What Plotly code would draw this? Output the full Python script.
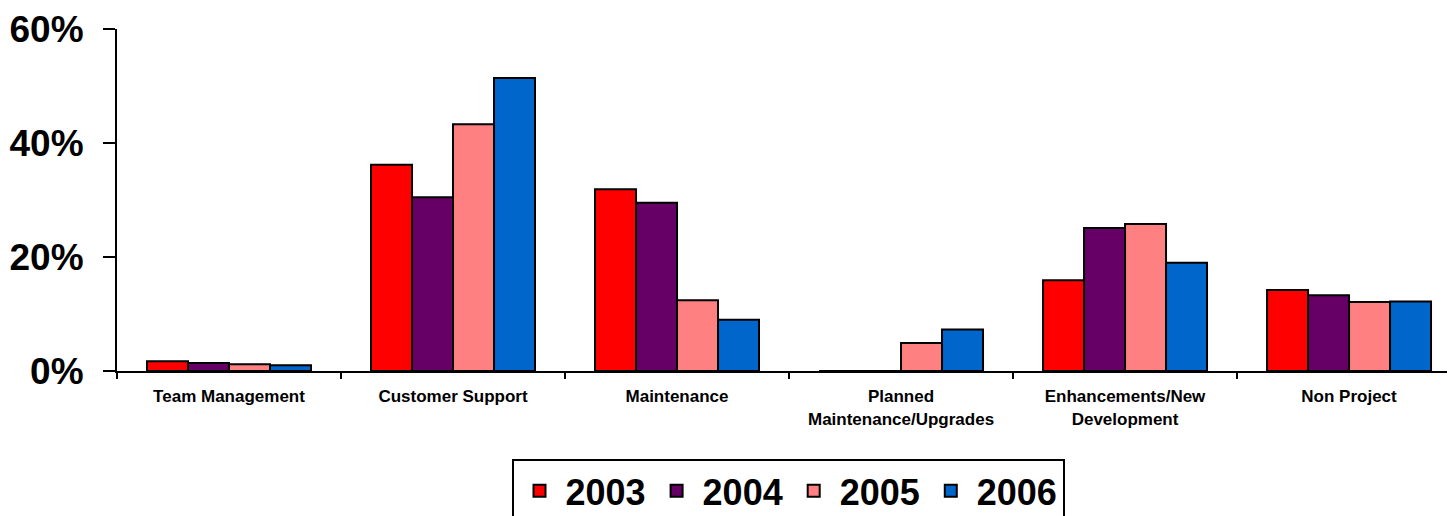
import plotly.graph_objects as go

categories = ["Team Management", "Customer Support", "Maintenance",
              "Planned<br>Maintenance/Upgrades", "Enhancements/New<br>Development", "Non Project"]
years = ["2003", "2004", "2005", "2006"]
v2003 = [1.7, 36.2, 31.9, 0.0, 15.9, 14.2]
v2004 = [1.4, 30.5, 29.5, 0.0, 25.1, 13.3]
v2005 = [1.2, 43.3, 12.4, 4.9, 25.8, 12.1]
v2006 = [1.0, 51.4, 9.0, 7.3, 19.0, 12.2]
series = [v2003, v2004, v2005, v2006]
colors = ["#FF0000", "#660066", "#FF8080", "#0066CC"]
y_tickvals = [0, 20, 40, 60]
y_ticktext = ["0%", "20%", "40%", "60%"]

FONT = "Arial, Liberation Sans, sans-serif"

fig = go.Figure()
for name, vals, col in zip(years, series, colors):
    fig.add_trace(go.Bar(
        x=categories, y=vals, name=name,
        marker=dict(color=col, line=dict(color="black", width=2)),
    ))

fig.update_layout(
    width=1455, height=516,
    margin=dict(l=109, r=8, t=21, b=153, autoexpand=False),
    paper_bgcolor="white", plot_bgcolor="white",
    barmode="group", bargap=0.268, bargroupgap=0,
    showlegend=True,
    legend=dict(
        orientation="h", x=0.5015, xanchor="center", y=-0.257, yanchor="top",
        bordercolor="black", borderwidth=2,
        font=dict(family=FONT, size=36, color="black", weight="bold"),
        itemwidth=42, tracegroupgap=0,
    ),
)
fig.update_xaxes(
    range=[-0.5, 5.473], automargin=False,
    showline=True, linecolor="black", linewidth=2,
    ticks="outside", tickson="boundaries", ticklen=6, tickwidth=2, tickcolor="black",
    showgrid=False, zeroline=False,
    tickfont=dict(family=FONT, size=17, color="black", weight="bold"),
    ticklabelstandoff=9,
)
fig.update_yaxes(
    range=[0, 60], tickvals=y_tickvals, ticktext=y_ticktext, automargin=False,
    showline=True, linecolor="black", linewidth=2,
    ticks="outside", ticklen=12, tickwidth=2, tickcolor="black",
    showgrid=False, zeroline=False,
    tickfont=dict(family=FONT, size=37, color="black", weight="bold"),
    ticklabelstandoff=12,
)

fig.write_html("out.html")
